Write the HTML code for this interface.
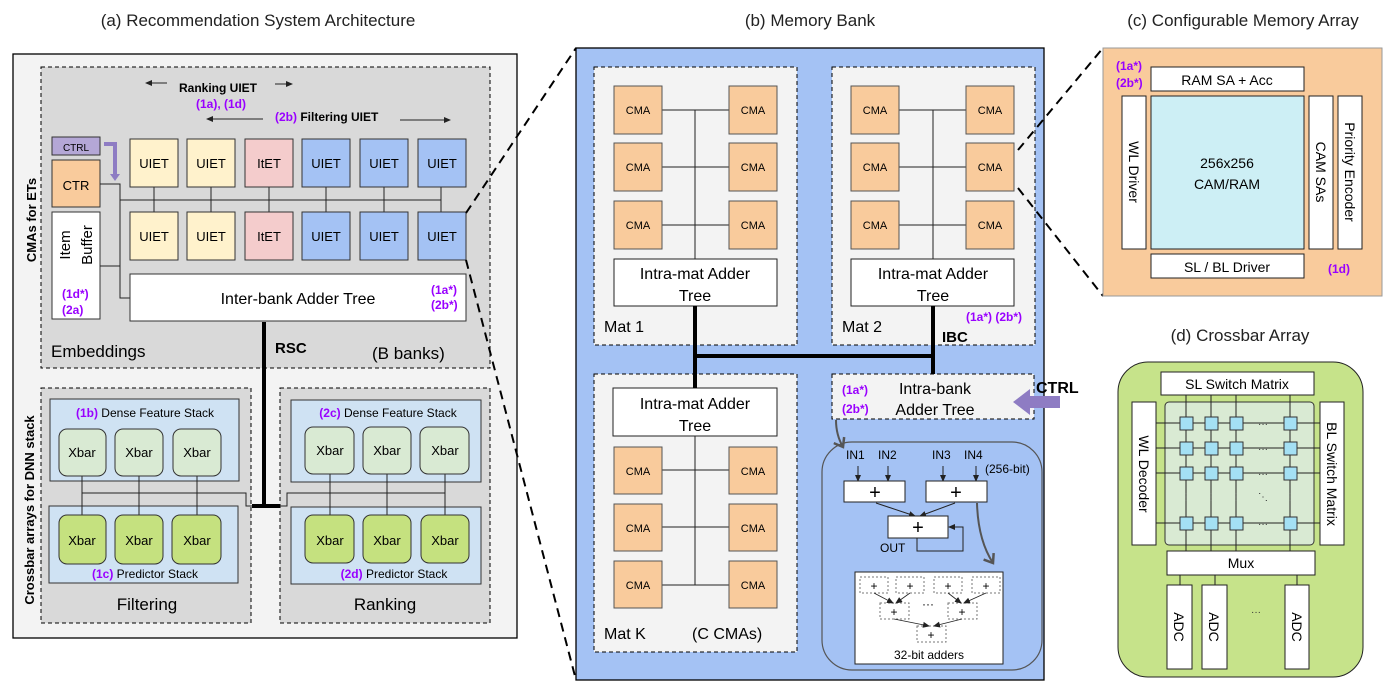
<!DOCTYPE html>
<html><head><meta charset="utf-8"><style>
html,body{margin:0;padding:0;background:#fff}
svg{display:block;font-family:"Liberation Sans",Arial,sans-serif}
.p{fill:#9900ff;font-weight:bold}
</style></head><body>
<svg width="1393" height="689" viewBox="0 0 1393 689" xmlns="http://www.w3.org/2000/svg">
<defs>
<marker id="ah" markerWidth="8" markerHeight="8" refX="6" refY="4" orient="auto" markerUnits="userSpaceOnUse"><path d="M0,1 L7,4 L0,7 z" fill="#222"/></marker>
<marker id="ah2" markerWidth="14" markerHeight="14" refX="10" refY="7" orient="auto" markerUnits="userSpaceOnUse"><path d="M2,1 L10,7 L2,13" fill="none" stroke="#555" stroke-width="2.5"/></marker>
</defs>
<g font-size="17" fill="#222" text-anchor="middle">
<text x="258" y="26">(a) Recommendation System Architecture</text>
<text x="810" y="26">(b) Memory Bank</text>
<text x="1243" y="26">(c) Configurable Memory Array</text>
<text x="1240" y="341">(d) Crossbar Array</text>
</g>

<!-- (a) -->
<rect x="13" y="54" width="504" height="584" fill="#f3f3f3" stroke="#000" stroke-width="1.3"/>
<rect x="41" y="67" width="449" height="301" fill="#d9d9d9" stroke="#000" stroke-dasharray="4,3"/>
<text transform="translate(36,220) rotate(-90)" text-anchor="middle" font-size="13" font-weight="bold">CMAs for ETs</text>
<text transform="translate(34,510) rotate(-90)" text-anchor="middle" font-size="13" font-weight="bold">Crossbar arrays for DNN stack</text>
<text x="218" y="92" text-anchor="middle" font-size="12" font-weight="bold">Ranking UIET</text>
<line x1="167" y1="83" x2="146" y2="83" stroke="#222" marker-end="url(#ah)"/>
<line x1="275" y1="84" x2="292" y2="84" stroke="#222" marker-end="url(#ah)"/>
<text x="221" y="108" text-anchor="middle" font-size="12" class="p">(1a), (1d)</text>
<text x="275" y="121" font-size="12" font-weight="bold"><tspan class="p">(2b)</tspan> Filtering UIET</text>
<line x1="263" y1="119" x2="207" y2="119" stroke="#222" marker-end="url(#ah)"/>
<line x1="400" y1="120" x2="450" y2="120" stroke="#222" marker-end="url(#ah)"/>
<rect x="52" y="137" width="48" height="18" fill="#b4a7d6" stroke="#333"/>
<text x="76" y="151" text-anchor="middle" font-size="10">CTRL</text>
<path d="M104,144 H115 V175" fill="none" stroke="#8e7cc3" stroke-width="4"/>
<path d="M110,174 L115,181 L120,174 z" fill="#8e7cc3"/>
<rect x="52" y="160" width="48" height="47" fill="#f9cb9c" stroke="#333"/>
<text x="76" y="190" text-anchor="middle" font-size="13">CTR</text>
<rect x="52" y="212" width="48" height="107" fill="#fff" stroke="#333"/>
<text transform="translate(70,245) rotate(-90)" text-anchor="middle" font-size="15">Item</text>
<text transform="translate(92,245) rotate(-90)" text-anchor="middle" font-size="15">Buffer</text>
<text x="62" y="298" font-size="12" class="p">(1d*)</text>
<text x="62" y="314" font-size="12" class="p">(2a)</text>
<g stroke="#222" fill="none">
<path d="M100,184 H120 V298 H130"/><path d="M100,266 H120"/><path d="M120,200 H441"/>
<path d="M154,187 V212 M211,187 V212 M269,187 V212 M326,187 V212 M384,187 V212 M441,187 V212"/>
</g>
<g font-size="13" text-anchor="middle" stroke="#333">
<rect x="130" y="139" width="48" height="48" fill="#fff2cc"/><rect x="187" y="139" width="48" height="48" fill="#fff2cc"/><rect x="245" y="139" width="48" height="48" fill="#f4cccc"/><rect x="302" y="139" width="48" height="48" fill="#a4c2f4"/><rect x="360" y="139" width="48" height="48" fill="#a4c2f4"/><rect x="418" y="139" width="48" height="48" fill="#a4c2f4"/>
<rect x="130" y="212" width="48" height="48" fill="#fff2cc"/><rect x="187" y="212" width="48" height="48" fill="#fff2cc"/><rect x="245" y="212" width="48" height="48" fill="#f4cccc"/><rect x="302" y="212" width="48" height="48" fill="#a4c2f4"/><rect x="360" y="212" width="48" height="48" fill="#a4c2f4"/><rect x="418" y="212" width="48" height="48" fill="#a4c2f4"/>
</g>
<g font-size="13" text-anchor="middle">
<text x="154" y="168">UIET</text><text x="211" y="168">UIET</text><text x="269" y="168">ItET</text><text x="326" y="168">UIET</text><text x="384" y="168">UIET</text><text x="442" y="168">UIET</text>
<text x="154" y="241">UIET</text><text x="211" y="241">UIET</text><text x="269" y="241">ItET</text><text x="326" y="241">UIET</text><text x="384" y="241">UIET</text><text x="442" y="241">UIET</text>
</g>
<rect x="130" y="274" width="336" height="47" fill="#fff" stroke="#333"/>
<text x="298" y="304" text-anchor="middle" font-size="16">Inter-bank Adder Tree</text>
<text x="431" y="294" font-size="12" class="p">(1a*)</text>
<text x="431" y="309" font-size="12" class="p">(2b*)</text>
<text x="51" y="357" font-size="17">Embeddings</text>
<text x="275" y="353" font-size="15" font-weight="bold">RSC</text>
<text x="372" y="359" font-size="17">(B banks)</text>
<rect x="41" y="388" width="210" height="235" fill="#d9d9d9" stroke="#000" stroke-dasharray="4,3"/>
<rect x="280" y="388" width="210" height="235" fill="#d9d9d9" stroke="#000" stroke-dasharray="4,3"/>
<g stroke="#333"><rect x="50" y="399" width="189" height="82" fill="#cfe2f3"/><rect x="49" y="506" width="189" height="77" fill="#cfe2f3"/><rect x="291" y="400" width="190" height="82" fill="#cfe2f3"/><rect x="291" y="507" width="190" height="77" fill="#cfe2f3"/></g>
<g stroke="#222" fill="none">
<path d="M82,476 V515 M139,476 V515 M197,476 V515 M82,493 H246 V506 H252"/>
<path d="M330,474 V515 M387,474 V515 M445,474 V515 M445,493 H287 V506 H280"/>
</g>
<g stroke="#333">
<rect x="59" y="429" width="47" height="47" rx="8" fill="#d9ead3"/><rect x="115" y="429" width="48" height="47" rx="8" fill="#d9ead3"/><rect x="173" y="429" width="48" height="47" rx="8" fill="#d9ead3"/>
<rect x="59" y="515" width="47" height="49" rx="8" fill="#c5e17f"/><rect x="115" y="515" width="48" height="49" rx="8" fill="#c5e17f"/><rect x="172" y="515" width="49" height="49" rx="8" fill="#c5e17f"/>
<rect x="305" y="427" width="49" height="47" rx="8" fill="#d9ead3"/><rect x="363" y="427" width="48" height="47" rx="8" fill="#d9ead3"/><rect x="420" y="427" width="49" height="47" rx="8" fill="#d9ead3"/>
<rect x="305" y="515" width="49" height="48" rx="8" fill="#c5e17f"/><rect x="363" y="515" width="48" height="48" rx="8" fill="#c5e17f"/><rect x="421" y="515" width="48" height="48" rx="8" fill="#c5e17f"/>
</g>
<g font-size="13" text-anchor="middle">
<text x="82" y="457">Xbar</text><text x="139" y="457">Xbar</text><text x="197" y="457">Xbar</text>
<text x="82" y="545">Xbar</text><text x="139" y="545">Xbar</text><text x="197" y="545">Xbar</text>
<text x="330" y="455">Xbar</text><text x="387" y="455">Xbar</text><text x="445" y="455">Xbar</text>
<text x="330" y="545">Xbar</text><text x="387" y="545">Xbar</text><text x="445" y="545">Xbar</text>
<text x="145" y="417" font-size="12"><tspan class="p">(1b)</tspan> Dense Feature Stack</text>
<text x="145" y="578" font-size="12"><tspan class="p">(1c)</tspan> Predictor Stack</text>
<text x="388" y="417" font-size="12"><tspan class="p">(2c)</tspan> Dense Feature Stack</text>
<text x="394" y="578" font-size="12"><tspan class="p">(2d)</tspan> Predictor Stack</text>
<text x="147" y="610" font-size="17">Filtering</text>
<text x="385" y="610" font-size="17">Ranking</text>
</g>
<path d="M264,322 V507 M252,506 H280" stroke="#000" stroke-width="4" fill="none"/>

<!-- (b) -->
<rect x="576" y="48" width="468" height="632" fill="#a4c2f4" stroke="#000" stroke-width="1.3"/>
<g stroke="#000" stroke-dasharray="4,3" fill="#f3f3f3">
<rect x="594" y="67" width="203" height="278"/><rect x="832" y="67" width="203" height="278"/><rect x="594" y="374" width="203" height="278"/>
</g>
<g stroke="#222" fill="none">
<path d="M695,110 V260 M662,110 H729 M662,167 H729 M662,225 H729"/>
<path d="M933,110 V260 M899,110 H966 M899,167 H966 M899,225 H966"/>
<path d="M695,436 V585 M662,470 H729 M662,527 H729 M662,585 H729"/>
</g>
<g fill="#f9cb9c" stroke="#555">
<rect x="614" y="86" width="48" height="48"/><rect x="729" y="86" width="48" height="48"/><rect x="614" y="143" width="48" height="48"/><rect x="729" y="143" width="48" height="48"/><rect x="614" y="201" width="48" height="48"/><rect x="729" y="201" width="48" height="48"/>
<rect x="851" y="86" width="48" height="48"/><rect x="966" y="86" width="48" height="48"/><rect x="851" y="143" width="48" height="48"/><rect x="966" y="143" width="48" height="48"/><rect x="851" y="201" width="48" height="48"/><rect x="966" y="201" width="48" height="48"/>
<rect x="614" y="447" width="48" height="47"/><rect x="729" y="447" width="48" height="47"/><rect x="614" y="504" width="48" height="47"/><rect x="729" y="504" width="48" height="47"/><rect x="614" y="561" width="48" height="47"/><rect x="729" y="561" width="48" height="47"/>
</g>
<g font-size="11" text-anchor="middle">
<text x="638" y="114">CMA</text><text x="753" y="114">CMA</text><text x="638" y="171">CMA</text><text x="753" y="171">CMA</text><text x="638" y="229">CMA</text><text x="753" y="229">CMA</text>
<text x="875" y="114">CMA</text><text x="990" y="114">CMA</text><text x="875" y="171">CMA</text><text x="990" y="171">CMA</text><text x="875" y="229">CMA</text><text x="990" y="229">CMA</text>
<text x="638" y="475">CMA</text><text x="753" y="475">CMA</text><text x="638" y="532">CMA</text><text x="753" y="532">CMA</text><text x="638" y="589">CMA</text><text x="753" y="589">CMA</text>
</g>
<g fill="#fff" stroke="#222"><rect x="614" y="259" width="163" height="47"/><rect x="851" y="259" width="163" height="47"/><rect x="613" y="388" width="164" height="48"/></g>
<g font-size="16" text-anchor="middle">
<text x="695" y="279">Intra-mat Adder</text><text x="695" y="301">Tree</text>
<text x="933" y="279">Intra-mat Adder</text><text x="933" y="301">Tree</text>
<text x="695" y="409">Intra-mat Adder</text><text x="695" y="431">Tree</text>
</g>
<text x="604" y="332" font-size="16">Mat 1</text>
<text x="842" y="332" font-size="16">Mat 2</text>
<text x="604" y="639" font-size="16">Mat K</text>
<text x="692" y="639" font-size="16">(C CMAs)</text>
<text x="966" y="321" font-size="12" class="p">(1a*) (2b*)</text>
<text x="942" y="342" font-size="15" font-weight="bold">IBC</text>
<path d="M695,306 V388 M933,306 V374 M695,356 H933" stroke="#000" stroke-width="4" fill="none"/>
<rect x="832" y="374" width="202" height="45" fill="#f3f3f3" stroke="#000" stroke-dasharray="4,3"/>
<text x="935" y="394" text-anchor="middle" font-size="16">Intra-bank</text>
<text x="935" y="415" text-anchor="middle" font-size="16">Adder Tree</text>
<text x="842" y="394" font-size="12" class="p">(1a*)</text>
<text x="842" y="413" font-size="12" class="p">(2b*)</text>
<path d="M1060,396 H1030 V389 L1013,402 L1030,415 V408 H1060 z" fill="#8e7cc3"/>
<text x="1036" y="393" font-size="16" font-weight="bold">CTRL</text>
<path d="M836,420 Q836,435 843,447" fill="none" stroke="#555" stroke-width="2" marker-end="url(#ah2)"/>
<rect x="822" y="442" width="220" height="228" rx="30" fill="none" stroke="#555" stroke-width="1.2"/>
<g font-size="12"><text x="846" y="459">IN1</text><text x="878" y="459">IN2</text><text x="932" y="459">IN3</text><text x="964" y="459">IN4</text><text x="985" y="473">(256-bit)</text><text x="880" y="552">OUT</text></g>
<g stroke="#222" fill="none">
<line x1="858" y1="466" x2="858" y2="481" marker-end="url(#ah)"/><line x1="888" y1="466" x2="888" y2="481" marker-end="url(#ah)"/>
<line x1="943" y1="466" x2="943" y2="481" marker-end="url(#ah)"/><line x1="976" y1="466" x2="976" y2="481" marker-end="url(#ah)"/>
<line x1="876" y1="503" x2="915" y2="516" marker-end="url(#ah)"/><line x1="955" y1="503" x2="920" y2="516" marker-end="url(#ah)"/>
<path d="M917,538 V551 H963 V527 H949" marker-end="url(#ah)"/>
</g>
<g fill="#fff" stroke="#222"><rect x="844" y="481" width="61" height="21"/><rect x="926" y="481" width="61" height="21"/><rect x="888" y="516" width="60" height="22"/></g>
<g font-size="20" text-anchor="middle"><text x="875" y="499">+</text><text x="956" y="499">+</text><text x="918" y="534">+</text></g>
<path d="M977,503 Q978,540 993,563" fill="none" stroke="#555" stroke-width="2" marker-end="url(#ah2)"/>
<rect x="855" y="572" width="148" height="92" fill="#fff" stroke="#222"/>
<g fill="none" stroke="#777" stroke-dasharray="2,2">
<rect x="860" y="577" width="28" height="16"/><rect x="896" y="577" width="28" height="16"/><rect x="934" y="577" width="28" height="16"/><rect x="972" y="577" width="28" height="16"/>
<rect x="880" y="603" width="29" height="16"/><rect x="948" y="603" width="29" height="16"/><rect x="917" y="626" width="29" height="16"/>
</g>
<g stroke="#222" fill="none" stroke-width="0.8">
<line x1="874" y1="593" x2="893" y2="603" marker-end="url(#ah)"/><line x1="910" y1="593" x2="896" y2="603" marker-end="url(#ah)"/>
<line x1="948" y1="593" x2="961" y2="603" marker-end="url(#ah)"/><line x1="986" y1="593" x2="964" y2="603" marker-end="url(#ah)"/>
<line x1="894" y1="619" x2="929" y2="626" marker-end="url(#ah)"/><line x1="962" y1="619" x2="934" y2="626" marker-end="url(#ah)"/>
</g>
<g font-size="12" text-anchor="middle"><text x="874" y="590">+</text><text x="910" y="590">+</text><text x="948" y="590">+</text><text x="986" y="590">+</text><text x="894" y="616">+</text><text x="962" y="616">+</text><text x="931" y="639">+</text><text x="928" y="608">···</text>
<text x="929" y="659">32-bit adders</text></g>

<!-- zoom lines -->
<g stroke="#000" stroke-width="2" stroke-dasharray="9,6" fill="none">
<line x1="466" y1="213" x2="576" y2="48"/><line x1="466" y1="260" x2="576" y2="680"/>
<line x1="1018" y1="150" x2="1103" y2="48"/><line x1="1018" y1="188" x2="1103" y2="296"/>
</g>

<!-- (c) -->
<rect x="1103" y="48" width="279" height="248" fill="#f9cb9c" stroke="#999"/>
<g stroke="#222" fill="#fff">
<rect x="1151" y="67" width="153" height="24"/><rect x="1122" y="96" width="24" height="153"/><rect x="1151" y="96" width="153" height="153" fill="#cdeff5"/>
<rect x="1309" y="96" width="24" height="153"/><rect x="1338" y="96" width="24" height="153"/><rect x="1151" y="254" width="153" height="24"/>
</g>
<g font-size="14" text-anchor="middle">
<text x="1227" y="85">RAM SA + Acc</text><text x="1227" y="272">SL / BL Driver</text>
<text x="1227" y="168">256x256</text><text x="1227" y="189">CAM/RAM</text>
<text transform="translate(1129,172) rotate(90)">WL Driver</text>
<text transform="translate(1316,172) rotate(90)">CAM SAs</text>
<text transform="translate(1345,172) rotate(90)">Priority Encoder</text>
</g>
<text x="1116" y="70" font-size="12" class="p">(1a*)</text>
<text x="1116" y="87" font-size="12" class="p">(2b*)</text>
<text x="1328" y="273" font-size="12" class="p">(1d)</text>

<!-- (d) -->
<rect x="1118" y="362" width="245" height="315" rx="30" fill="#c6e38a" stroke="#222"/>
<rect x="1165" y="402" width="149" height="143" rx="4" fill="#d9ead3" stroke="#333"/>
<g stroke="#222" fill="none">
<path d="M1186,395 V558 M1211,395 V558 M1236,395 V558 M1290,395 V558"/>
<path d="M1156,423 H1320 M1156,448 H1320 M1156,473 H1320 M1156,523 H1320"/>
<path d="M1180,575 V585 M1215,575 V585 M1297,575 V585"/>
</g>
<g fill="#a4e0f4" stroke="#333">
<rect x="1180" y="417" width="13" height="13"/><rect x="1205" y="417" width="13" height="13"/><rect x="1230" y="417" width="13" height="13"/><rect x="1284" y="417" width="13" height="13"/>
<rect x="1180" y="442" width="13" height="13"/><rect x="1205" y="442" width="13" height="13"/><rect x="1230" y="442" width="13" height="13"/><rect x="1284" y="442" width="13" height="13"/>
<rect x="1180" y="467" width="13" height="13"/><rect x="1205" y="467" width="13" height="13"/><rect x="1230" y="467" width="13" height="13"/><rect x="1284" y="467" width="13" height="13"/>
<rect x="1180" y="517" width="13" height="13"/><rect x="1205" y="517" width="13" height="13"/><rect x="1230" y="517" width="13" height="13"/><rect x="1284" y="517" width="13" height="13"/>
</g>
<g stroke="#222" fill="#fff">
<rect x="1161" y="372" width="153" height="23"/><rect x="1132" y="402" width="24" height="143"/><rect x="1320" y="402" width="24" height="143"/>
<rect x="1167" y="551" width="148" height="24"/>
<rect x="1167" y="585" width="25" height="84"/><rect x="1202" y="585" width="25" height="84"/><rect x="1285" y="585" width="24" height="84"/>
</g>
<g font-size="14" text-anchor="middle">
<text x="1237" y="389">SL Switch Matrix</text><text x="1241" y="568">Mux</text>
<text transform="translate(1139,474) rotate(90)">WL Decoder</text>
<text transform="translate(1327,474) rotate(90)">BL Switch Matrix</text>
<text transform="translate(1174,627) rotate(90)">ADC</text>
<text transform="translate(1209,627) rotate(90)">ADC</text>
<text transform="translate(1292,627) rotate(90)">ADC</text>
</g>
<g font-size="10" text-anchor="middle" fill="#333">
<text x="1263" y="427">···</text><text x="1263" y="452">···</text><text x="1263" y="477">···</text><text x="1263" y="527">···</text><text x="1256" y="615">···</text>
<text x="1186" y="500">⋮</text><text x="1211" y="500">⋮</text><text x="1236" y="500">⋮</text><text x="1263" y="500">⋱</text><text x="1290" y="500">⋮</text>
</g>
</svg>
</body></html>
